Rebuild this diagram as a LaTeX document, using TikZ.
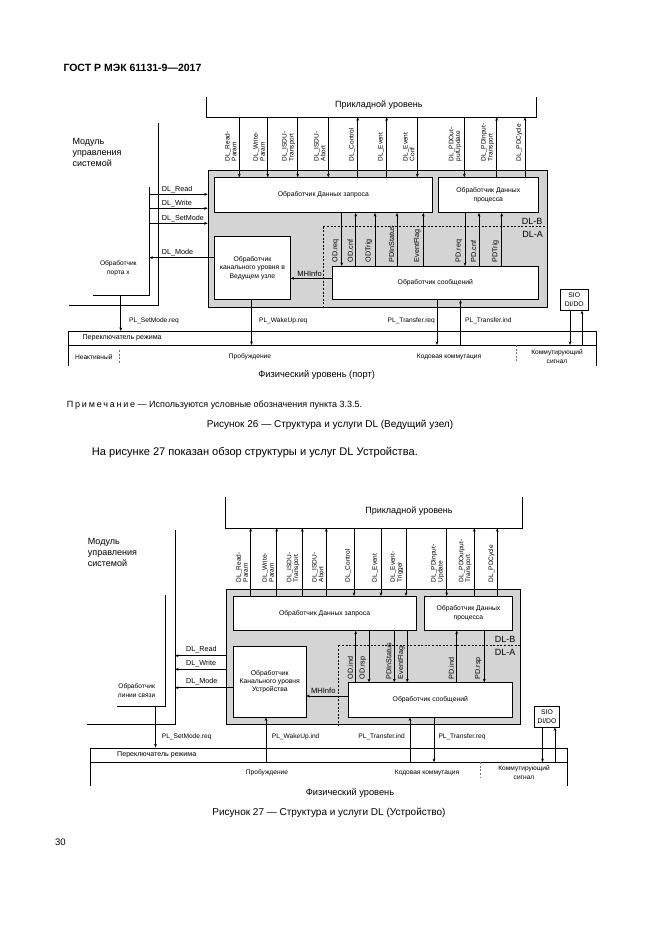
\documentclass[tikz,border=0pt]{standalone}
\usepackage{fontspec}
\setmainfont{Liberation Sans}
\usetikzlibrary{arrows.meta}
\newcommand\fz[2]{\fontsize{#1pt}{#2pt}\selectfont}
\newcommand\bx[7]{\node[#6, anchor=north west, minimum width={(#4-(#2))*1pt}, minimum height={(#5-(#3))*1pt}] (#1) at (#2,#3) {#7};}
\newcommand\rl[4]{\node[rlab, anchor=south west, rotate=90] (#1) at (#2,#3) {#4};}
\newcommand\rml[4]{\node[mlab, anchor=south west, rotate=90] (#1) at (#2,#3) {#4};}
\begin{document}
\begin{tikzpicture}[x=1pt,y=-1pt,
  ln/.style={line width=0.6pt},
  arr/.style={line width=0.75pt,-{Stealth[length=3.6pt,width=2.8pt]}},
  wbox/.style={draw, fill=white, line width=0.6pt, inner sep=0pt, align=center, font=\fz{6.8}{8.3}},
  gbox/.style={draw, fill=black!17, line width=0.7pt, inner sep=0pt},
  nobox/.style={inner sep=0pt},
  rlab/.style={inner sep=0.6pt, align=left, font=\fz{6.5}{6.9}},
  mlab/.style={inner sep=0.6pt, align=left, font=\fz{7.2}{8}},
  lab/.style={inner sep=0pt, font=\fz{7.2}{8.5}},
  sm/.style={inner sep=0pt, font=\fz{6.6}{8.4}},
  big/.style={inner sep=0pt, font=\fz{9}{10.8}},
  dsh/.style={line width=0.6pt, dash pattern=on 2pt off 1.6pt},
]
\useasboundingbox (0,0) rectangle (661,935);
\fill[white] (0,0) rectangle (661,935);

\node[anchor=west, inner sep=0, font=\bfseries\fz{10.5}{12}] (hdr) at (63.3,68.3) {ГОСТ Р МЭК 61131-9—2017};

%% ================= Figure 26 =================
\bx{app1}{206.7}{97}{536}{116.7}{nobox}{}
\draw[ln] (app1.north west) -- (app1.south west) -- (app1.south east) -- (app1.north east);
\node[big] (app1t) at (378.8,105.5) {Прикладной уровень};

\bx{dl1}{207.7}{170}{546.7}{306.7}{gbox}{}
\draw[dsh] (323.3,226.7) -- (dl1.east |- 0,226.7);
\draw[dsh] (323.3,226.7) -- (323.3,0 |- dl1.south);
\bx{req1}{214.3}{177.3}{431.7}{212.3}{wbox}{Обработчик Данных запроса}
\bx{proc1}{437.7}{177.3}{538.3}{212.3}{wbox}{Обработчик Данных\\процесса}
\bx{ch1}{214.3}{236}{290}{299.3}{wbox}{Обработчик\\канального уровня в\\Ведущем узле}
\bx{msg1}{331.7}{266}{538.3}{299.3}{wbox}{Обработчик сообщений}
\node[inner sep=0, font=\fz{9}{10}] (dlb1) at (532,221.5) {DL-B};
\node[inner sep=0, font=\fz{9}{10}] (dla1) at (532.5,234) {DL-A};

% application level services
\draw[arr] (239.3,0 |- app1.south) -- (239.3,0 |- req1.north);
\draw[arr] (267.7,0 |- app1.south) -- (267.7,0 |- req1.north);
\draw[arr] (297.7,0 |- app1.south) -- (297.7,0 |- req1.north);
\draw[arr] (328.3,0 |- app1.south) -- (328.3,0 |- req1.north);
\draw[arr] (357.7,0 |- req1.north) -- (357.7,0 |- app1.south);
\draw[arr] (386.7,0 |- req1.north) -- (386.7,0 |- app1.south);
\draw[arr] (417.3,0 |- app1.south) -- (417.3,0 |- req1.north);
\draw[arr] (464.3,0 |- app1.south) -- (464.3,0 |- proc1.north);
\draw[arr] (496.7,0 |- proc1.north) -- (496.7,0 |- app1.south);
\draw[arr] (525,0 |- proc1.north) -- (525,0 |- app1.south);
\rl{t1}{237.3}{162}{DL\_Read-\\Param}
\rl{t2}{265.7}{162}{DL\_Write-\\Param}
\rl{t3}{295.7}{162}{DL\_ISDU-\\Transport}
\rl{t4}{326.3}{162}{DL\_ISDU-\\Abort}
\rl{t5}{355.7}{162}{DL\_Control}
\rl{t6}{384.7}{162}{DL\_Event}
\rl{t7}{415.3}{162}{DL\_Event\\Conf}
\rl{t8}{462.3}{162}{DL\_PDOut-\\putUpdate}
\rl{t9}{494.7}{162}{DL\_PDInput-\\Transport}
\rl{t10}{523}{162}{DL\_PDCycle}

% internal services
\draw[arr] (341.7,0 |- req1.south) -- (341.7,0 |- msg1.north);
\draw[arr] (355.7,0 |- msg1.north) -- (355.7,0 |- req1.south);
\draw[arr] (375,0 |- msg1.north) -- (375,0 |- req1.south);
\draw[arr] (397,0 |- msg1.north) -- (397,0 |- req1.south);
\draw[arr] (423.3,0 |- msg1.north) -- (423.3,0 |- req1.south);
\draw[arr] (465,0 |- proc1.south) -- (465,0 |- msg1.north);
\draw[arr] (479,0 |- msg1.north) -- (479,0 |- proc1.south);
\draw[arr] (501.7,0 |- msg1.north) -- (501.7,0 |- proc1.south);
\rml{m1}{339.7}{263}{OD.req}
\rml{m2}{353.7}{263}{OD.cnf}
\rml{m3}{373}{263}{ODTrig}
\rml{m4}{395}{263}{PDInStatus}
\rml{m5}{421.3}{263}{EventFlag}
\rml{m6}{463}{263}{PD.req}
\rml{m7}{477}{263}{PD.cnf}
\rml{m8}{499.7}{263}{PDTrig}

\draw[arr] (msg1.west |- 0,278.3) -- (ch1.east |- 0,278.3);
\node[inner sep=0, font=\fz{7.6}{9}] (mh1) at (309.5,273.3) {MHInfo};

% system management / port handler
\node[big, anchor=west, align=left] (mod1) at (72.3,152.5) {Модуль\\управления\\системой};
\coordinate (o1t) at (158.3,123.3); \coordinate (o1c) at (158.3,305.7); \coordinate (o1l) at (69.3,305.7);
\draw[ln] (o1t) -- (o1c) -- (o1l);
\coordinate (i1t) at (149.3,187.3); \coordinate (i1c) at (149.3,295.7); \coordinate (i1l) at (93.3,295.7);
\draw[ln] (i1t) -- (i1c) -- (i1l);
\node[sm, align=center] (ph1) at (118.3,268.2) {Обработчик\\порта x};

\draw[arr] (i1c |- 0,194.3) -- (dl1.west |- 0,194.3);
\draw[arr] (i1c |- 0,208.3) -- (dl1.west |- 0,208.3);
\draw[arr] (i1c |- 0,223.3) -- (dl1.west |- 0,223.3);
\draw[arr] (ch1.west |- 0,257.7) -- (i1c |- 0,257.7);
\node[lab, anchor=west] (lr1) at (161.7,189.3) {DL\_Read};
\node[lab, anchor=west] (lw1) at (161.7,203.3) {DL\_Write};
\node[lab, anchor=west] (ls1) at (161.7,218.6) {DL\_SetMode};
\node[lab, anchor=west] (lm1) at (161.7,252.5) {DL\_Mode};

% physical layer
\bx{ms1}{68}{331}{596}{345}{nobox, draw, ln}{}
\bx{phy1}{68}{345}{596}{366}{nobox}{}
\draw[ln] (phy1.north west) -- (phy1.south west);
\draw[ln] (phy1.north east) -- (phy1.south east);
\node[sm, anchor=west, font=\fz{7.1}{8.4}] (ms1t) at (82.4,337.8) {Переключатель режима};
\node[sm] (na1) at (93.8,356.7) {Неактивный};
\draw[dsh, draw=black!55] (119.7,350) -- (119.7,362.8);
\node[sm] (pb1) at (250,356.7) {Пробуждение};
\node[sm] (kk1) at (449,356.7) {Кодовая коммутация};
\draw[dsh, draw=black!55] (516.7,345) -- (516.7,361);
\node[sm, align=center, font=\fz{6.6}{9.2}] (ks1) at (557,356.8) {Коммутирующий\\сигнал};
\node[big, font=\fz{9.3}{11}] (fz1) at (316.6,374.7) {Физический уровень (порт)};

\bx{sio1}{560}{289}{588}{310}{wbox}{SIO\\DI/DO}
\draw[arr] (570,0 |- sio1.south) -- (570,0 |- phy1.north);
\draw[arr] (582,0 |- phy1.north) -- (582,0 |- sio1.south);

\draw[arr] (120.8,0 |- i1c) -- (120.8,0 |- ms1.north);
\draw[arr] (251.5,0 |- ch1.south) -- (251.5,0 |- phy1.north);
\draw[arr] (437,0 |- msg1.south) -- (437,0 |- phy1.north);
\draw[arr] (460.5,0 |- phy1.north) -- (460.5,0 |- msg1.south);
\node[sm, anchor=west] (pl1) at (129,320.5) {PL\_SetMode.req};
\node[sm, anchor=west] (pl2) at (259,320.5) {PL\_WakeUp.req};
\node[sm, anchor=east] (pl3) at (435,320.5) {PL\_Transfer.req};
\node[sm, anchor=west] (pl4) at (465,320.5) {PL\_Transfer.ind};

% captions
\node[anchor=west, inner sep=0, font=\fz{9}{10}] (note) at (66.7,405) {{\addfontfeature{LetterSpace=20}Примечание} — Используются условные обозначения пункта 3.3.5.};
\node[inner sep=0, font=\fz{10}{12}] (cap26) at (330,425) {Рисунок 26 — Структура и услуги DL (Ведущий узел)};
\node[anchor=west, inner sep=0, font=\fz{11.1}{13}] (txt) at (91.7,452.7) {На рисунке 27 показан обзор структуры и услуг DL Устройства.};

%% ================= Figure 27 =================
\bx{app2}{225}{497}{522}{527.7}{nobox}{}
\draw[ln] (app2.north west) -- (app2.south west) -- (app2.south east) -- (app2.north east);
\node[big] (app2t) at (409,511) {Прикладной уровень};

\bx{dl2}{225.5}{589.3}{520}{724}{gbox}{}
\draw[dsh] (338.3,645.3) -- (dl2.east |- 0,645.3);
\draw[dsh] (338.3,645.3) -- (338.3,0 |- dl2.south);
\bx{req2}{232.5}{596}{416}{630}{wbox}{Обработчик Данных запроса}
\bx{proc2}{424}{596}{512.3}{630}{wbox}{Обработчик Данных\\процесса}
\bx{ch2}{233.3}{646}{305.7}{716.7}{wbox}{Обработчик\\Канального уровня\\Устройства}
\bx{msg2}{347.7}{682.3}{512.3}{716.7}{wbox}{Обработчик сообщений}
\node[inner sep=0, font=\fz{9}{10}] (dlb2) at (505,639.3) {DL-B};
\node[inner sep=0, font=\fz{9}{10}] (dla2) at (505,652.3) {DL-A};

\draw[arr] (250.7,0 |- req2.north) -- (250.7,0 |- app2.south);
\draw[arr] (276.7,0 |- req2.north) -- (276.7,0 |- app2.south);
\draw[arr] (302.3,0 |- req2.north) -- (302.3,0 |- app2.south);
\draw[arr] (326.3,0 |- req2.north) -- (326.3,0 |- app2.south);
\draw[arr] (354,0 |- app2.south) -- (354,0 |- req2.north);
\draw[arr] (381,0 |- app2.south) -- (381,0 |- req2.north);
\draw[arr] (406,0 |- app2.south) -- (406,0 |- req2.north);
\draw[arr] (446.7,0 |- app2.south) -- (446.7,0 |- proc2.north);
\draw[arr] (474.3,0 |- proc2.north) -- (474.3,0 |- app2.south);
\draw[arr] (497.3,0 |- proc2.north) -- (497.3,0 |- app2.south);
\rl{u1}{248.7}{583}{DL\_Read-\\Param}
\rl{u2}{274.7}{583}{DL\_Write-\\Param}
\rl{u3}{300.3}{583}{DL\_ISDU-\\Transport}
\rl{u4}{324.3}{583}{DL\_ISDU-\\Abort}
\rl{u5}{352}{583}{DL\_Control}
\rl{u6}{379}{583}{DL\_Event}
\rl{u7}{404}{583}{DL\_Event-\\Trigger}
\rl{u8}{444.7}{583}{DL\_PDInput-\\Update}
\rl{u9}{472.3}{583}{DL\_PDOutput-\\Transport}
\rl{u10}{495.3}{583}{DL\_PDCycle}

\draw[arr] (355.7,0 |- msg2.north) -- (355.7,0 |- req2.south);
\draw[arr] (369,0 |- req2.south) -- (369,0 |- msg2.north);
\draw[arr] (394.3,0 |- req2.south) -- (394.3,0 |- msg2.north);
\draw[arr] (407.3,0 |- req2.south) -- (407.3,0 |- msg2.north);
\draw[arr] (456.7,0 |- msg2.north) -- (456.7,0 |- proc2.south);
\draw[arr] (484.3,0 |- proc2.south) -- (484.3,0 |- msg2.north);
\rml{n1}{353.7}{680}{OD.ind}
\rml{n2}{367}{680}{OD.rsp}
\rml{n3}{392.3}{680}{PDInStatus}
\rml{n4}{405.3}{680}{EventFlag}
\rml{n5}{454.7}{680}{PD.ind}
\rml{n6}{482.3}{680}{PD.rsp}

\draw[arr] (msg2.west |- 0,696) -- (ch2.east |- 0,696);
\node[inner sep=0, font=\fz{7.6}{9}] (mh2) at (323.3,691) {MHInfo};

\node[big, anchor=west, align=left] (mod2) at (87.7,552.3) {Модуль\\управления\\системой};
\coordinate (o2t) at (175,530); \coordinate (o2c) at (175,724); \coordinate (o2l) at (86.7,724);
\draw[ln] (o2t) -- (o2c) -- (o2l);
\coordinate (i2t) at (165,595); \coordinate (i2c) at (165,706); \coordinate (i2l) at (117.3,706);
\draw[ln] (i2t) -- (i2c) -- (i2l);
\node[sm, align=center] (ph2) at (136.7,690.5) {Обработчик\\линии связи};

\draw[arr] (dl2.west |- 0,655.7) -- (o2c |- 0,655.7);
\draw[arr] (dl2.west |- 0,669.3) -- (o2c |- 0,669.3);
\draw[arr] (ch2.west |- 0,687.7) -- (o2c |- 0,687.7);
\node[lab, anchor=west] (lr2) at (186,649.3) {DL\_Read};
\node[lab, anchor=west] (lw2) at (186,663.3) {DL\_Write};
\node[lab, anchor=west] (lm2) at (186,681.7) {DL\_Mode};

\bx{ms2}{90}{747.5}{566.5}{762.2}{nobox, draw, ln}{}
\bx{phy2}{90}{762.2}{566.5}{786}{nobox}{}
\draw[ln] (phy2.north west) -- (phy2.south west);
\draw[ln] (phy2.north east) -- (phy2.south east);
\node[sm, anchor=west, font=\fz{7.1}{8.4}] (ms2t) at (117,755) {Переключатель режима};
\node[sm] (pb2) at (267,773) {Пробуждение};
\node[sm] (kk2) at (427,773) {Кодовая коммутация};
\draw[dsh, draw=black!55] (480.6,762.2) -- (480.6,777);
\node[sm, align=center, font=\fz{6.6}{9.2}] (ks2) at (524,772.7) {Коммутирующий\\сигнал};
\node[big, font=\fz{9.3}{11}] (fz2) at (350,793.3) {Физический уровень};

\bx{sio2}{534}{706}{559.3}{726.7}{wbox}{SIO\\DI/DO}
\draw[arr] (542.5,0 |- sio2.south) -- (542.5,0 |- phy2.north);
\draw[arr] (555,0 |- phy2.north) -- (555,0 |- sio2.south);

\draw[arr] (155.5,0 |- i2c) -- (155.5,0 |- ms2.north);
\draw[arr] (266,0 |- phy2.north) -- (266,0 |- ch2.south);
\draw[arr] (410,0 |- phy2.north) -- (410,0 |- msg2.south);
\draw[arr] (434,0 |- msg2.south) -- (434,0 |- phy2.north);
\node[sm, anchor=west] (pq1) at (161.7,736.7) {PL\_SetMode.req};
\node[sm, anchor=west] (pq2) at (271.7,736.7) {PL\_WakeUp.ind};
\node[sm, anchor=east] (pq3) at (405,736.7) {PL\_Transfer.ind};
\node[sm, anchor=west] (pq4) at (438.3,736.7) {PL\_Transfer.req};

\node[inner sep=0, font=\fz{10}{12}] (cap27) at (329,813.3) {Рисунок 27 — Структура и услуги DL (Устройство)};
\node[anchor=west, inner sep=0, font=\fz{9.5}{11}] (pg) at (55,842.7) {30};
\end{tikzpicture}
\end{document}
